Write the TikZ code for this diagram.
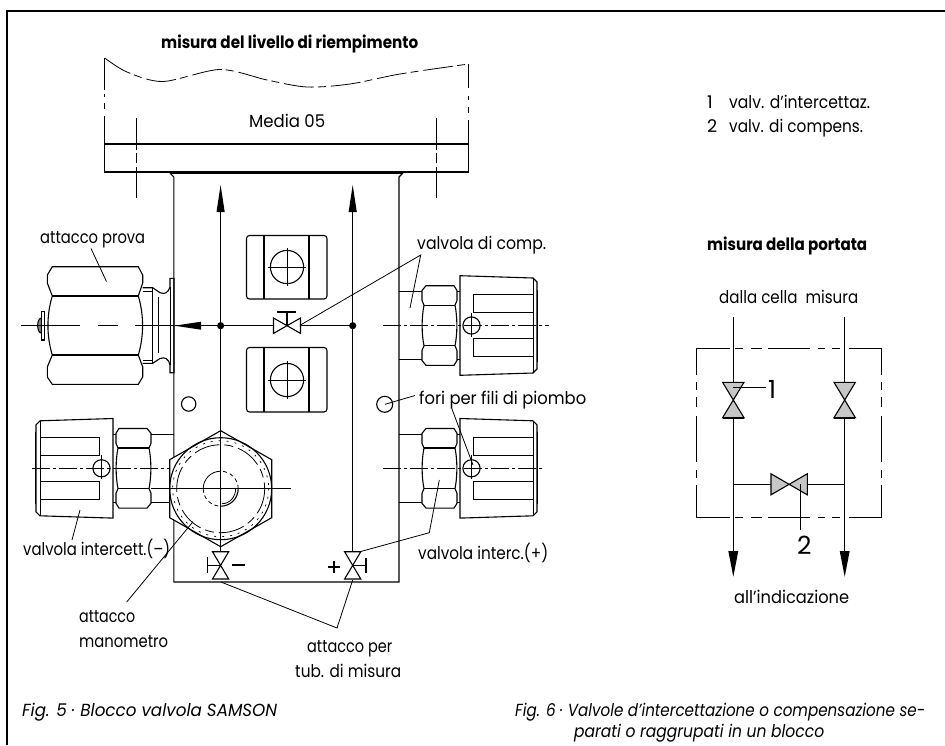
\documentclass[tikz,border=0pt]{standalone}
\usepackage{graphicx}
\usepackage{fontspec}
\setmainfont{Poppins}
\newcommand{\fw}[2]{\resizebox{#1pt}{\height}{#2}}
\begin{document}
\begin{tikzpicture}[x=1pt,y=-1pt,line join=miter,
  ln/.style={line width=1.1pt},
  thin1/.style={line width=0.8pt},
  heavy/.style={line width=1.6pt},
  lbl/.style={anchor=base west,inner sep=0pt,font=\fontsize{17.5}{20}\selectfont},
  ttl/.style={anchor=base west,inner sep=0pt,font=\fontsize{17}{20}\selectfont\bfseries},
  figcap/.style={anchor=base west,inner sep=0pt,font=\fontsize{17.5}{20}\selectfont\itshape},
  bigd/.style={anchor=base west,inner sep=0pt,font=\fontsize{25}{28}\selectfont},
  cdash/.style={line width=0.8pt,dash pattern=on 18pt off 3pt on 3pt off 3pt},
  grayv/.style={line width=1.1pt,fill=black!22},
  knobpic/.pic={
    \draw[ln] (0,-33.8)--(23,-33.8) (0,33.8)--(23,33.8);
    \draw[ln] (23,-35)--(27,-39.8)--(55,-39.8)--(58,-35)--(58,-25)--(56,-20.3)
      .. controls (58.5,-8) and (58.5,8) .. (56,20.3)--(58,25)--(58,35)--(55,39.8)--(27,39.8)--(23,35)--(23,25)--(25,20.3)
      .. controls (22.5,8) and (22.5,-8) .. (25,-20.3)--(23,-25)--cycle;
    \draw[ln] (25,-20.3)--(56,-20.3) (25,20.3)--(56,20.3);
    \draw[ln] (58,-33.8)--(61,-33.8) (58,33.8)--(61,33.8);
    \draw[ln] (61,-49.8)--(134,-47.5)--(138,-43.5)--(138,43.5)--(134,47.5)--(61,49.8)--cycle;
    \draw[line width=1.3pt] (138.6,-36)--(138.6,36);
    \draw[thin1] (134,-47.5)--(134,47.5);
    \draw[ln] (133.5,-30.8)--(74.5,-30.8)--(74.5,-12.8)--(133.5,-12.8);
    \draw[ln] (133.5,12.8)--(74.5,12.8)--(74.5,30.8)--(133.5,30.8);
    \draw[ln,fill=white] (72.5,0) circle (8.6);
    \draw[thin1] (72.5,-13)--(72.5,11);
  }]
\useasboundingbox (0,0) rectangle (945,745);
% frame
\draw[line width=2.4pt] (7,745)--(7,11)--(945,11);
% housing with broken edges
\draw[thin1,dash pattern=on 30pt off 4pt on 8pt off 5pt] plot[smooth] coordinates {(104.7,58) (127,72) (163,81.5) (220,69.5) (267,80) (307,87) (350,84) (400,74) (468.7,64)};
\draw[thin1] (104.7,58)--(104.7,90) (104.7,94)--(104.7,97) (104.7,103)--(104.7,109) (104.7,116)--(104.7,144);
\draw[thin1] (468.7,64)--(468.7,88) (468.7,96)--(468.7,100) (468.7,107)--(468.7,113) (468.7,120)--(468.7,144);
\draw[ln] (104.7,144)--(468.7,144)--(468.7,172)--(104.7,172)--cycle;
\draw[heavy] (109,172)--(165,172);
\draw[line width=2.2pt] (171,173)--(403,173);
\draw[thin1] (136.5,118)--(136.5,150) (136.5,153)--(136.5,163) (136.5,167)--(136.5,198);
\draw[thin1] (436.7,118)--(436.7,150) (436.7,153)--(436.7,163) (436.7,167)--(436.7,198);
% block
\draw[ln] (170,173)--(173.8,177)--(173.8,582)--(399,582)--(399,177)--(403,173);
% arrows and pipes
\draw[ln] (220.6,212)--(220.6,552) (352.7,212)--(352.7,552) (175,325.7)--(352.7,325.7);
\fill (220.6,185)--(224.7,212)--(216.5,212)--cycle;
\fill (352.7,185)--(356.8,212)--(348.6,212)--cycle;
\fill (174.5,325.7)--(201,321.7)--(201,329.7)--cycle;
\fill (220.6,325.7) circle (3.6) (352.7,325.7) circle (3.6);
% compensation valve
\draw[ln,fill=white] (273.5,318)--(273.5,333.4)--(300.5,318)--(300.5,333.4)--cycle;
\draw[ln] (287,325.7)--(287,312) (277,312)--(296,312);
% square plugs
\draw[ln,rounded corners=3pt] (246.5,235.5) rectangle (327,299);
\draw[ln] (264,236)--(264,299) (309,236)--(309,299);
\draw[ln] (287,267) circle (16.6);
\draw[thin1] (268,267)--(306,267) (287,248)--(287,286);
\draw[ln,rounded corners=3pt] (246.5,347.5) rectangle (327,412);
\draw[ln] (264,348)--(264,412) (309,348)--(309,412);
\draw[ln] (287,380) circle (16.6);
\draw[thin1] (268,380)--(306,380) (287,361)--(287,399);
% lead holes
\draw[ln] (188.7,404) circle (7.2);
\draw[ln] (384.7,404.3) circle (8);
% handwheels
\pic at (399,325.5) {knobpic};
\pic at (399,468.3) {knobpic};
\pic[xscale=-1] at (174,468.3) {knobpic};
\draw[cdash] (383,325.5)--(549,325.5);
\draw[cdash] (383,468.3)--(544,468.3);
\draw[cdash] (32,468.3)--(174,468.3);
% test connection
\draw[ln] (52.3,266.7)--(138.3,266.7)--(142.7,275)--(142.7,283)--(138.3,296)
  .. controls (144,315) and (144,336) .. (138.3,355)--(142.7,367)--(142.7,377)--(138.3,384.3)--(52.3,384.3)--(47.3,377)--(47.3,367)--(52.3,355)
  .. controls (46.5,336) and (46.5,315) .. (52.3,296)--(47.3,283)--(47.3,275)--cycle;
\draw[ln] (52.3,296)--(138.3,296) (52.3,355)--(138.3,355);
\draw[ln] (142.7,287.7)--(152.7,287.7)--(160,292.7) .. controls (165,294.5) and (168,293) .. (170,287)--(170,278.3)--(174,278.3)--(174,372.7)--(170,372.7)--(170,365) .. controls (168,358) and (165,357) .. (160,358.5)--(152.7,363.3)--(142.7,363.3);
\draw[thin1] (142.7,291.7)--(153,291.7) (142.7,360)--(153,360);
\draw[ln] (152.7,287.7)--(152.7,363.3) (158.3,296.7)--(158.3,353.3);
\draw[thin1] (170,287)--(170,365);
\draw[ln,fill=white] (41.3,311.5) rectangle (44.7,340);
\draw[ln,fill=black!45] (41.3,318) .. controls (36,319) and (37,333) .. (41.3,333)--cycle;
\draw[thin1] (21,325.7)--(80,325.7) (98,325.7)--(118,325.7) (135,325.7)--(174,325.7);
% gauge connection
\draw[ln,fill=white] (220.7,430.7)--(271.7,459.7)--(271.7,517.7)--(220.7,546.7)--(169.7,517.7)--(169.7,459.7)--cycle;
\draw[ln] (220.7,488.7) circle (51);
\draw[line width=0.7pt,dash pattern=on 2pt off 6pt] (220.7,488.7) circle (48);
\draw[thin1,dash pattern=on 26pt off 5pt on 9pt off 5pt] (220.7,488.7) circle (44);
% centre bore: solid and hidden arcs
\draw[thin1] (220.7,471.2) .. controls (211,471.2) and (203.2,479) .. (203.2,488.7);
\draw[thin1,dash pattern=on 4pt off 3pt] (203.2,488.7) .. controls (203.2,498.4) and (211,506.2) .. (220.7,506.2);
\draw[ln] (220.7,506.2) .. controls (230.4,506.2) and (238.2,498.4) .. (238.2,488.7);
\draw[thin1] (222,503.7) .. controls (230,503.7) and (235.7,496.5) .. (235.7,488.7);
\draw[thin1,dash pattern=on 4pt off 3pt] (238.2,488.7) .. controls (238.2,479) and (230.4,471.2) .. (220.7,471.2);
\draw[thin1] (220.7,430.7)--(220.7,552);
\draw[thin1] (151,488.7)--(291,488.7);
\fill (220.7,488.7) circle (1.2);
% shut-off valves
\draw[ln,fill=white] (212.5,551.7)--(228.7,551.7)--(212.5,579)--(228.7,579)--cycle;
\draw[ln] (220.6,565.3)--(207.5,565.3) (207.5,557)--(207.5,573);
\draw[heavy] (232,565)--(245,565);
\draw[ln,fill=white] (344.6,551.7)--(360.8,551.7)--(344.6,579)--(360.8,579)--cycle;
\draw[ln] (352.7,565.3)--(366,565.3) (366,557.5)--(366,573);
\draw[heavy] (328,567)--(340,567) (334,561)--(334,573);
% leaders
\draw[thin1] (221,582)--(337,628)--(352.7,580);
\draw[thin1] (360,551.7)--(429.3,532.7)--(439.3,480);
\draw[thin1] (300.5,325)--(420.7,255)--(410,308);
\draw[thin1] (385,404.3)--(415,395.5);
\draw[thin1] (451.7,408.3)--(473,465);
\draw[thin1] (91,248.5)--(106.5,281.5);
\draw[thin1] (80,510)--(72,540);
\draw[thin1] (193,521.7)--(126.7,602);
% schematic
\foreach \yy in {348.3,517.7}
  \draw[ln] (696.7,\yy)--(730,\yy) (735,\yy)--(743,\yy) (751,\yy)--(762,\yy) (768,\yy)--(810,\yy) (818,\yy)--(825,\yy) (832,\yy)--(840,\yy) (849,\yy)--(881.7,\yy);
\foreach \xx in {696.7,881.7}
  \draw[ln] (\xx,348.3)--(\xx,375) (\xx,382)--(\xx,390) (\xx,397)--(\xx,407) (\xx,416)--(\xx,462) (\xx,470)--(\xx,478) (\xx,485)--(\xx,517.7);
\draw[ln] (733.3,317.3)--(733.3,551) (844.7,317.3)--(844.7,551) (733.3,484.3)--(844.7,484.3);
\draw[grayv] (722.6,382.3)--(744,382.3)--(722.6,417.7)--(744,417.7)--cycle;
\draw[grayv] (834,382.3)--(855.4,382.3)--(834,417.7)--(855.4,417.7)--cycle;
\draw[heavy] (722.6,417.7)--(744,417.7) (834,417.7)--(855.4,417.7);
\draw[grayv] (771,473.8)--(771,494.8)--(807.3,473.8)--(807.3,494.8)--cycle;
\fill (733.3,576.7)--(738.3,551)--(728.3,551)--cycle;
\fill (844.7,576.7)--(849.7,551)--(839.7,551)--cycle;
\draw[thin1] (733.3,387.4)--(766,387.4);
\draw[thin1] (800,484.3)--(800,530);
% labels
\node[ttl] (t1) at (161,48) {\fw{257}{misura del livello di riempimento}};
\node[lbl] (t2) at (249,127) {\fw{76}{Media 05}};
\node[lbl] (t3) at (40,243) {\fw{105}{attacco prova}};
\node[lbl] (t4) at (417,249) {\fw{129}{valvola di comp.}};
\node[lbl] (t5) at (419,404) {\fw{167}{fori per fili di piombo}};
\node[lbl] (t6) at (23,555) {\fw{147}{valvola intercett.(–)}};
\node[lbl] (t7) at (79,622) {\fw{56}{attacco}};
\node[lbl] (t8) at (79,647) {\fw{89}{manometro}};
\node[lbl] (t9) at (307,652) {\fw{85}{attacco per}};
\node[lbl] (t10) at (295,677) {\fw{106}{tub. di misura}};
\node[lbl] (t11) at (418,559) {\fw{130}{valvola interc.(+)}};
\node[lbl] (t12) at (707,108) {1};
\node[lbl] (t13) at (729,108) {\fw{141}{valv. d’intercettaz.}};
\node[lbl] (t14) at (707,132) {2};
\node[lbl] (t15) at (729,132) {\fw{134}{valv. di compens.}};
\node[ttl] (t16) at (707,250) {\fw{160}{misura della portata}};
\node[lbl] (t17) at (719,303) {\fw{139}{dalla cella\ \ misura}};
\node[lbl] (t18) at (734,603) {\fw{115}{all’indicazione}};
\node[bigd] (t19) at (768,398) {1};
\node[bigd] (t20) at (797,554) {2};
\node[figcap] (t21) at (22,716) {\fw{255}{Fig. 5 · Blocco valvola SAMSON}};
\node[figcap] (t22) at (515,716) {\fw{410}{Fig. 6 · Valvole d’intercettazione o compensazione se-}};
\node[figcap] (t23) at (574,737) {\fw{250}{parati o raggrupati in un blocco}};
\end{tikzpicture}
\end{document}
